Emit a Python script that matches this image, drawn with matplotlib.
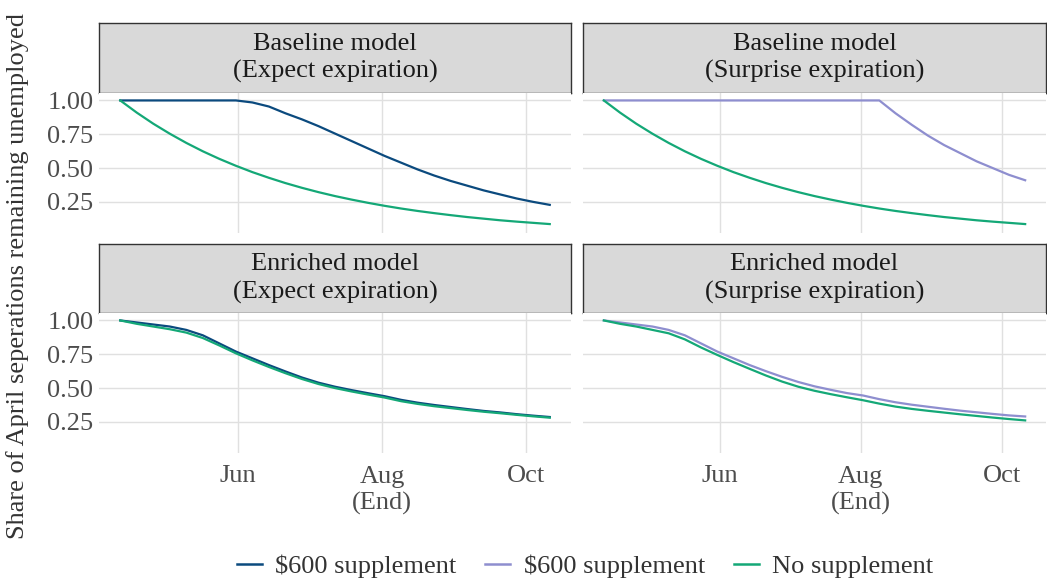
import datetime as dt
import matplotlib
matplotlib.use("Agg")
import matplotlib.pyplot as plt
from matplotlib.lines import Line2D

plt.rcParams["font.family"] = ["Liberation Serif", "DejaVu Serif"]

# weekly points, mid April to mid October
start = dt.date(2020, 4, 12)
weeks = [start + dt.timedelta(days=7 * k) for k in range(27)]

base_none = [1.000, 0.910, 0.828, 0.754, 0.686, 0.624, 0.568, 0.517, 0.470, 0.428, 0.389, 0.354, 0.322,
             0.293, 0.267, 0.243, 0.221, 0.201, 0.183, 0.167, 0.152, 0.138, 0.126, 0.114, 0.104, 0.095, 0.086]
base_expect = [1.00, 1.00, 1.00, 1.00, 1.00, 1.00, 1.00, 1.00, 0.985, 0.955, 0.905, 0.86, 0.81, 0.755,
               0.70, 0.645, 0.59, 0.54, 0.49, 0.445, 0.405, 0.37, 0.335, 0.305, 0.275, 0.25, 0.228]
base_surprise = [1.00] * 18 + [0.905, 0.82, 0.74, 0.67, 0.61, 0.55, 0.50, 0.45, 0.41]

enr_expect = [1.00, 0.985, 0.97, 0.955, 0.93, 0.89, 0.83, 0.77, 0.72, 0.67, 0.623, 0.578, 0.54, 0.51,
              0.485, 0.462, 0.44, 0.413, 0.392, 0.375, 0.36, 0.345, 0.331, 0.32, 0.307, 0.296, 0.286]
enr_none_l = [1.00, 0.975, 0.955, 0.935, 0.91, 0.87, 0.815, 0.757, 0.705, 0.656, 0.61, 0.567, 0.53, 0.50,
              0.475, 0.452, 0.43, 0.403, 0.383, 0.366, 0.352, 0.338, 0.325, 0.314, 0.302, 0.291, 0.281]
enr_surprise = [1.00, 0.985, 0.97, 0.955, 0.93, 0.89, 0.83, 0.77, 0.72, 0.67, 0.625, 0.583, 0.545, 0.513,
                0.487, 0.463, 0.445, 0.418, 0.395, 0.377, 0.362, 0.347, 0.333, 0.321, 0.309, 0.298, 0.29]
enr_none_r = [1.00, 0.975, 0.955, 0.93, 0.905, 0.86, 0.80, 0.745, 0.692, 0.642, 0.593, 0.548, 0.51, 0.48,
              0.455, 0.432, 0.41, 0.385, 0.363, 0.346, 0.332, 0.319, 0.306, 0.294, 0.282, 0.271, 0.261]

navy = "#0b4a7e"
purple = "#8e8ecf"
green = "#14a877"

panels = [
    ("Baseline model\n(Expect expiration)", [(base_expect, navy), (base_none, green)]),
    ("Baseline model\n(Surprise expiration)", [(base_surprise, purple), (base_none, green)]),
    ("Enriched model\n(Expect expiration)", [(enr_expect, navy), (enr_none_l, green)]),
    ("Enriched model\n(Surprise expiration)", [(enr_surprise, purple), (enr_none_r, green)]),
]

W, H = 1047, 585
fig = plt.figure(figsize=(W / 100, H / 100), dpi=100)

def box(x0, y0, x1, y1):
    return [x0 / W, 1 - y1 / H, (x1 - x0) / W, (y1 - y0) / H]

cols = [(99, 571), (583, 1046)]
rows = [(23, 93, 233), (244, 313, 453)]

pad = dt.timedelta(days=9.1)
for i, (title, lines) in enumerate(panels):
    r, c = divmod(i, 2)
    x0, x1 = cols[c]
    s0, s1, p1 = rows[r]
    # strip
    sax = fig.add_axes(box(x0, s0, x1, s1))
    sax.set_facecolor("#d9d9d9")
    sax.set_xticks([])
    sax.set_yticks([])
    for sp in sax.spines.values():
        sp.set_color("#333333")
        sp.set_linewidth(1.0)
    sax.text(0.5, 0.5, title, ha="center", va="center", fontsize=19, color="#1a1a1a",
             linespacing=1.3, transform=sax.transAxes)

    ax = fig.add_axes(box(x0, s1, x1, p1))
    for vals, col in lines:
        ax.plot(weeks, vals, color=col, lw=1.6)
    ax.set_xlim(weeks[0] - pad, weeks[-1] + pad)
    ax.set_ylim(0.02, 1.055)
    ax.set_yticks([0.25, 0.5, 0.75, 1.0])
    ax.set_xticks([dt.date(2020, 6, 1), dt.date(2020, 8, 1), dt.date(2020, 10, 1)])
    ax.grid(True, color="#e0e0e0", lw=1.0)
    ax.set_axisbelow(True)
    for sp in ax.spines.values():
        sp.set_visible(False)
    ax.tick_params(axis="y", length=0, labelsize=19, labelcolor="#4d4d4d", pad=4)
    ax.tick_params(axis="x", length=0, labelsize=19, labelcolor="#4d4d4d", pad=9)
    if c == 0:
        ax.set_yticklabels(["0.25", "0.50", "0.75", "1.00"])
    else:
        ax.set_yticklabels([])
    if r == 1:
        ax.set_xticklabels(["Jun", "Aug\n(End)", "Oct"], linespacing=1.25)
    else:
        ax.set_xticklabels([])

fig.text(18 / W, 1 - 276 / H, "Share of April seperations remaining unemployed",
         rotation=90, ha="center", va="center", fontsize=19, color="#333333")

handles = [Line2D([], [], color=navy, lw=1.8),
           Line2D([], [], color=purple, lw=1.8),
           Line2D([], [], color=green, lw=1.8)]
fig.legend(handles, [r"\$600 supplement", r"\$600 supplement", "No supplement"],
           loc="center", bbox_to_anchor=(585 / W, 1 - 566 / H), ncol=3, frameon=False,
           fontsize=19, handlelength=0.95, handletextpad=0.5, columnspacing=1.1,
           labelcolor="#333333")

fig.savefig("out.png", dpi=100)
